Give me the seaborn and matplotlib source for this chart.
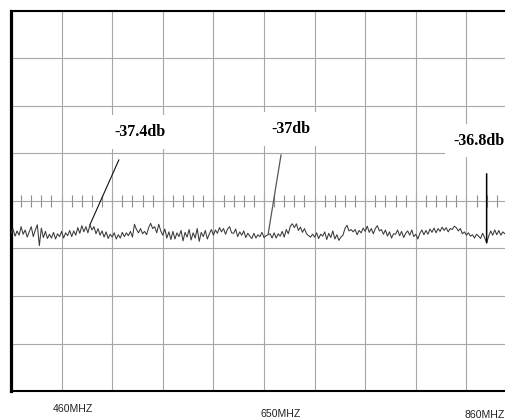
import numpy as np
import matplotlib
matplotlib.use("Agg")
import matplotlib.pyplot as plt
import matplotlib.transforms as mtransforms
import seaborn as sns

# ---------------- data ----------------
freq = np.arange(400, 890, 2)  # MHz sample points of the sweep
trace_db = [
    -36.9, -35.9, -37.4, -36.3, -37.2, -35.4, -37.0, -36.1, -37.6, -36.5,
    -35.4, -37.5, -36.1, -35.0, -39.4, -35.7, -37.7, -36.4, -37.9, -37.0,
    -37.8, -36.6, -38.0, -36.9, -37.5, -36.4, -37.8, -36.7, -37.3, -36.2,
    -37.5, -36.3, -37.2, -35.6, -36.8, -35.2, -36.5, -35.4, -36.7, -35.0,
    -36.1, -35.4, -36.9, -35.8, -37.2, -36.3, -37.6, -36.5, -37.9, -37.0,
    -37.6, -36.7, -38.0, -37.1, -37.8, -36.6, -37.5, -36.7, -37.3, -36.4,
    -37.6, -34.9, -36.0, -36.7, -35.8, -36.9, -36.4, -37.1, -35.6, -34.7,
    -35.8, -35.4, -36.7, -34.9, -36.3, -37.2, -35.9, -37.8, -36.5, -38.1,
    -36.4, -38.0, -36.7, -37.5, -36.2, -38.4, -36.6, -37.6, -36.0, -38.2,
    -36.7, -37.8, -35.8, -38.5, -36.6, -37.5, -36.2, -38.0, -36.9, -36.0,
    -37.2, -36.1, -36.8, -35.6, -36.5, -35.8, -37.0, -35.9, -35.4, -36.7,
    -36.8, -35.9, -37.5, -36.5, -37.2, -36.3, -37.7, -36.8, -37.4, -37.9,
    -36.8, -37.8, -37.1, -37.5, -36.6, -37.7, -37.3, -37.1, -36.9, -37.8,
    -36.7, -37.8, -36.9, -37.4, -36.4, -37.6, -36.0, -36.9, -35.3, -34.8,
    -35.6, -34.8, -36.2, -35.5, -36.6, -35.8, -36.9, -37.3, -37.6, -37.0,
    -37.6, -36.7, -37.9, -37.0, -37.4, -36.5, -38.1, -36.8, -37.7, -36.3,
    -38.0, -37.1, -38.3, -37.6, -37.2, -35.8, -35.1, -36.3, -36.0, -36.5,
    -36.0, -37.1, -36.2, -36.7, -35.7, -36.4, -35.3, -36.6, -35.8, -36.9,
    -35.8, -35.2, -36.3, -36.0, -37.0, -36.1, -37.4, -36.5, -37.8, -36.9,
    -37.0, -36.1, -37.3, -36.4, -37.7, -36.8, -36.3, -37.2, -36.1, -37.5,
    -37.0, -38.0, -36.8, -36.1, -37.1, -36.2, -37.0, -35.9, -36.6, -35.7,
    -36.7, -35.8, -36.4, -35.5, -36.2, -35.6, -36.5, -35.8, -36.0, -35.3,
    -35.6, -36.3, -35.8, -36.9, -36.5, -37.2, -36.7, -37.4, -37.1, -37.8,
    -37.0, -37.4, -37.9, -36.8, -37.7, -38.8, -37.4, -36.3, -37.2, -36.1,
    -37.1, -36.2, -37.2, -36.5, -36.9,
]
marker_freq = [478, 654, 870]
marker_labels = ["-37.4db", "-37db", "-36.8db"]
tick_freq = [460, 650, 860]
tick_labels = ["460MHZ", "650MHZ", "860MHZ"]

# ---------------- layout / style ----------------
W, H, DPI = 506, 419, 100
sns.set_theme(style="white")
plt.rcParams["font.family"] = ["Liberation Sans", "DejaVu Sans"]

fig = plt.figure(figsize=(W / DPI, H / DPI), dpi=DPI)
fig.patch.set_facecolor("white")
ax = fig.add_axes([11 / W, 28 / H, 506 / W, 380 / H])
ax.set_facecolor("white")
ax.set_xlim(400, 900)
ax.set_ylim(-70, 10)

grid_c = "#a6a6a6"
ax.xaxis.remove_overlapping_locs = False
ax.set_xticks(np.arange(400, 901, 50))
ax.set_yticks(np.arange(-70, 11, 10))
ax.set_xticklabels([])
ax.set_yticklabels([])
ax.grid(True, color=grid_c, lw=0.8, zorder=0)
ax.tick_params(axis="both", which="major", length=0)

# labelled frequency ticks (minor ticks carry the text)
ax.set_xticks(tick_freq, minor=True)
ax.set_xticklabels(tick_labels, minor=True, fontsize=7.6, color="#222222")
ax.tick_params(axis="x", which="minor", length=0, pad=9)
label_offsets_px = [(1, 0), (17, -5), (8, -6)]
for lab, (dx, dy) in zip(ax.get_xticklabels(minor=True), label_offsets_px):
    lab.set_transform(lab.get_transform() +
                      mtransforms.ScaledTranslation(dx / DPI, dy / DPI, fig.dpi_scale_trans))

for side in ["left", "top", "bottom", "right"]:
    ax.spines[side].set_color("black")
ax.spines["left"].set_linewidth(2.3)
ax.spines["top"].set_linewidth(1.5)
ax.spines["bottom"].set_linewidth(1.5)

# centre graticule with small ticks
sec = ax.secondary_xaxis(0.5)
sec.set_xticks(np.arange(410, 900, 10))
sec.set_xticklabels([])
sec.tick_params(direction="inout", length=8.6, width=0.8, color="#8c8c8c")
for s in sec.spines.values():
    s.set_visible(False)

# trace
sns.lineplot(x=freq, y=trace_db, ax=ax, color="#3a3a3a", lw=0.75, zorder=3)

# markers
marker_db = np.interp(marker_freq, freq, trace_db)
line_start_px = [(29, 65), (13, 80), (0, 69)]
line_colors = ["#111111", "#555555", "#000000"]
line_widths = [0.8, 0.9, 1.1]
text_pos = [(527.5, -15.5), (676.5, -14.8), (837.5, -17.3)]
text_ha = ["center", "center", "left"]
for f, d, (sx, sy), c, lw in zip(marker_freq, marker_db, line_start_px, line_colors, line_widths):
    ax.annotate("", xy=(f, d), xytext=(sx * 0.72, sy * 0.72), textcoords="offset points",
                arrowprops=dict(arrowstyle="-", color=c, lw=lw, shrinkA=0, shrinkB=0),
                zorder=4)
for lab, (tx, ty), ha in zip(marker_labels, text_pos, text_ha):
    ax.text(tx, ty, lab, ha=ha, va="center", fontsize=11.5, fontweight="bold",
            family=["Liberation Serif", "DejaVu Serif"], color="black", zorder=5,
            bbox=dict(boxstyle="square,pad=0.55", fc="white", ec="none"))

fig.savefig("out.png", dpi=DPI)
